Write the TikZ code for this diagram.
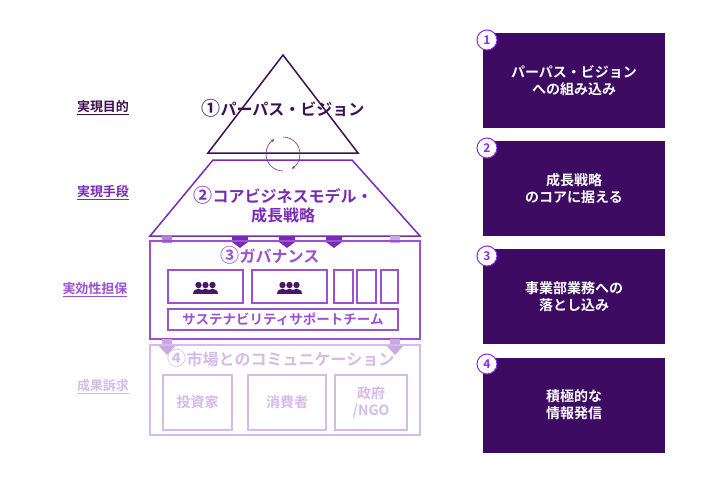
\documentclass[tikz,border=0pt]{standalone}
\usepackage{fontspec}
\setmainfont{Noto Sans CJK JP}[BoldFont={Noto Sans CJK JP Bold}]
\usetikzlibrary{arrows.meta}
\definecolor{c1}{HTML}{3C1053}
\definecolor{c2}{HTML}{7A2BB5}
\definecolor{c3}{HTML}{9A52D0}
\definecolor{c4}{HTML}{D5BBE9}
\definecolor{rbox}{HTML}{3D0B62}
\definecolor{badge}{HTML}{8A2BE2}
\tikzset{
 lab/.style={font=\bfseries\fontsize{13}{15}\selectfont},
 ttl/.style={font=\bfseries\fontsize{16}{19}\selectfont,align=center},
 rb/.style={fill=rbox,draw=none,minimum width=182pt,minimum height=95pt,text=white,font=\bfseries\fontsize{14}{17}\selectfont,align=center},
 bd/.style={circle,fill=white,draw=badge,line width=1pt,text=badge,font=\bfseries\fontsize{12}{12}\selectfont,inner sep=0pt,minimum size=20pt},
 inb/.style={draw,line width=1.5pt},
}
\newcommand{\cn}[1]{{\fontsize{19}{19}\selectfont #1}}
\newcommand{\people}[3]{%
 \foreach \dx in {-7,7,0}{%
  \fill[#3] (#1+\dx,#2-3) circle (3.2pt);
  \fill[#3] (#1+\dx-5.5,#2+6) .. controls (#1+\dx-5.5,#2-1) and (#1+\dx+5.5,#2-1) .. (#1+\dx+5.5,#2+6) -- cycle;
 }}
\begin{document}
\begin{tikzpicture}[x=1pt,y=-1pt]
\useasboundingbox[fill=white] (0,0) rectangle (724,485);
% level 1
\draw[c1,line width=1.5pt] (283,55) -- (358,153) -- (208,153) -- cycle;
\node[ttl,text=c1] (t1) at (283,108) {\cn{①}パーパス・ビジョン};
\node[lab,text=c1] (l1) at (103,108) {\underline{実現目的}};
% cycle
\draw[c2,line width=0.6pt,-{Stealth[length=4pt]}] (283,137) arc[start angle=-90,end angle=60,radius=17];
\draw[c2,line width=0.6pt,-{Stealth[length=4pt]}] (283,171) arc[start angle=90,end angle=240,radius=17];
% level 2
\draw[c2,line width=1.5pt] (213,160) -- (352,160) -- (420,236) -- (150,236) -- cycle;
\node[ttl,text=c2] (t2) at (283,205) {\cn{②}コアビジネスモデル・\\成長戦略};
\node[lab,text=c2] (l2) at (103,193) {\underline{実現手段}};
% arrows level2->3
\foreach \x in {240,287,334}{
 \fill[c2] (\x-8,236) -- (\x+8,236) -- (\x+8,242) -- (\x,248) -- (\x-8,242) -- cycle;
}
\fill[c2!60] (162,236) rectangle (172,243);
\fill[c2!40] (390,236) rectangle (400,243);
% level 3
\draw[c3,line width=1.5pt] (150,241) rectangle (420,339);
\node[ttl,text=c3] (t3) at (270,255) {\cn{③}ガバナンス};
\node[lab,text=c3] (l3) at (95,290) {\underline{実効性担保}};
\draw[c3,inb] (168,270) rectangle (243,303);
\draw[c3,inb] (252,270) rectangle (327,303);
\draw[c3,inb] (334,270) rectangle (353,303);
\draw[c3,inb] (357,270) rectangle (376,303);
\draw[c3,inb] (381,270) rectangle (398,303);
\people{205.5}{288}{c1!80!c2}
\people{289.5}{288}{c1!80!c2}
\draw[c3,inb] (168,309) rectangle (398,330);
\node[text=c3,font=\bfseries\fontsize{13.5}{15}\selectfont] (sus) at (283,319.5) {サステナビリティサポートチーム};
% arrows level3->4
\foreach \x in {167,395}{
 \fill[c4!80!c3] (\x-5,339) -- (\x+5,339) -- (\x+5,346) -- (\x+8,346) -- (\x,355) -- (\x-8,346) -- (\x-5,346) -- cycle;
}
% level 4
\draw[c4,line width=1.5pt] (150,345) rectangle (420,435);
\node[ttl,text=c4] (t4) at (281,358) {\cn{④}市場とのコミュニケーション};
\node[lab,text=c4] (l4) at (103,387) {\underline{成果訴求}};
\draw[c4,inb] (163,375) rectangle (232,430);
\draw[c4,inb] (248,375) rectangle (326,430);
\draw[c4,inb] (335,375) rectangle (407,430);
\node[text=c4,font=\bfseries\fontsize{14}{16}\selectfont] (a) at (197.5,402.5) {投資家};
\node[text=c4,font=\bfseries\fontsize{14}{16}\selectfont] (b) at (287,402.5) {消費者};
\node[text=c4,font=\bfseries\fontsize{14}{17}\selectfont,align=center] (c) at (371,402.5) {政府\\/NGO};
% right boxes
\node[rb] (r1) at (574,80.5) {パーパス・ビジョン\\への組み込み};
\node[rb] (r2) at (574,188.5) {成長戦略\\のコアに据える};
\node[rb] (r3) at (574,296.5) {事業部業務への\\落とし込み};
\node[rb] (r4) at (574,405) {積極的な\\情報発信};
\node[bd] (b1) at (487,40) {1};
\node[bd] (b2) at (487,148) {2};
\node[bd] (b3) at (487,256) {3};
\node[bd] (b4) at (487,364) {4};
\end{tikzpicture}
\end{document}
